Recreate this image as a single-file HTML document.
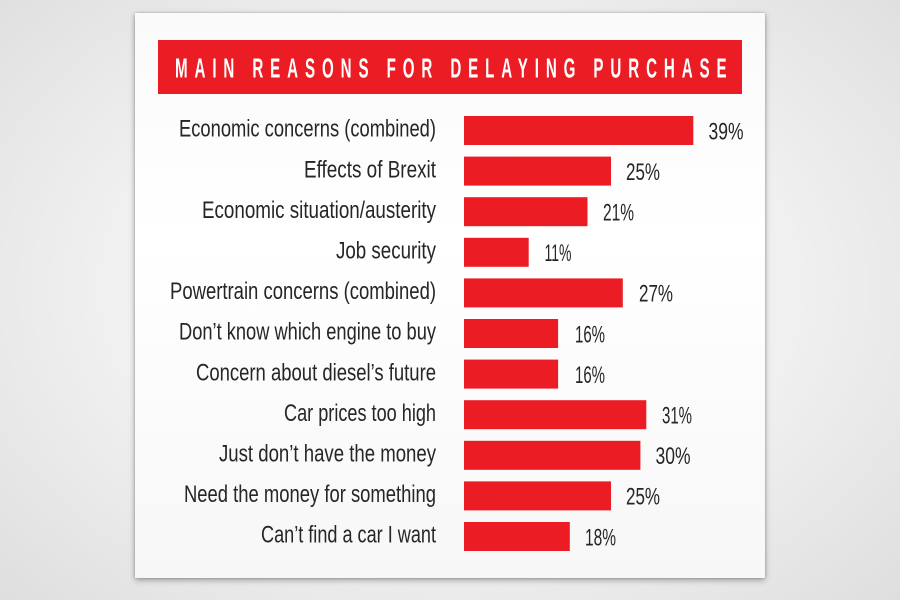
<!DOCTYPE html>
<html>
<head>
<meta charset="utf-8">
<style>
  html,body{margin:0;padding:0;}
  body{width:900px;height:600px;overflow:hidden;position:relative;
    background:radial-gradient(ellipse 70% 75% at 50% 48%, #f8f8f8 0%, #f0f0f0 55%, #dedede 100%);}
  .card{position:absolute;left:135px;top:13px;width:630px;height:565px;
    background:linear-gradient(180deg,#fafafa 0%,#ffffff 40%,#f7f7f7 100%);
    box-shadow:0 2px 6px rgba(0,0,0,0.35), 0 0 2px rgba(0,0,0,0.2);}
  svg{position:absolute;left:0;top:0;}
</style>
</head>
<body>
<div class="card"></div>
<svg width="900" height="600" viewBox="0 0 900 600" xmlns="http://www.w3.org/2000/svg">
  <rect x="158" y="40" width="584" height="54" fill="#ec1c24"/>
  <g transform="translate(175,77.5) scale(0.55,1)">
    <text x="0" y="0" font-family="Liberation Sans, sans-serif" font-weight="bold" font-size="27.5" fill="#ffffff" textLength="1003" lengthAdjust="spacing">MAIN REASONS FOR DELAYING PURCHASE</text>
  </g>

  <g fill="#ec1c24">
    <rect x="464" y="116" width="229.3" height="29"/>
    <rect x="464" y="156.6" width="147" height="29"/>
    <rect x="464" y="197.2" width="123.5" height="29"/>
    <rect x="464" y="237.8" width="64.7" height="29"/>
    <rect x="464" y="278.4" width="158.8" height="29"/>
    <rect x="464" y="319" width="94.1" height="29"/>
    <rect x="464" y="359.6" width="94.1" height="29"/>
    <rect x="464" y="400.2" width="182.3" height="29"/>
    <rect x="464" y="440.8" width="176.4" height="29"/>
    <rect x="464" y="481.4" width="147" height="29"/>
    <rect x="464" y="522" width="105.8" height="29"/>
  </g>

  <g font-family="Liberation Sans, sans-serif" font-size="24" fill="#262626" lengthAdjust="spacingAndGlyphs">
    <text x="179" y="136.7" textLength="257" lengthAdjust="spacingAndGlyphs">Economic concerns (combined)</text>
    <text x="304" y="177.3" textLength="132" lengthAdjust="spacingAndGlyphs">Effects of Brexit</text>
    <text x="202" y="217.9" textLength="234" lengthAdjust="spacingAndGlyphs">Economic situation/austerity</text>
    <text x="336" y="258.5" textLength="100" lengthAdjust="spacingAndGlyphs">Job security</text>
    <text x="170" y="299.1" textLength="266" lengthAdjust="spacingAndGlyphs">Powertrain concerns (combined)</text>
    <text x="179" y="339.7" textLength="257" lengthAdjust="spacingAndGlyphs">Don’t know which engine to buy</text>
    <text x="196" y="380.3" textLength="240" lengthAdjust="spacingAndGlyphs">Concern about diesel’s future</text>
    <text x="284" y="420.9" textLength="152" lengthAdjust="spacingAndGlyphs">Car prices too high</text>
    <text x="219" y="461.5" textLength="217" lengthAdjust="spacingAndGlyphs">Just don’t have the money</text>
    <text x="184" y="502.1" textLength="252" lengthAdjust="spacingAndGlyphs">Need the money for something</text>
    <text x="261" y="542.7" textLength="175" lengthAdjust="spacingAndGlyphs">Can’t find a car I want</text>
  </g>

  <g font-family="Liberation Sans, sans-serif" font-size="24" fill="#262626">
    <text x="708.5" y="139.3" textLength="35" lengthAdjust="spacingAndGlyphs">39%</text>
    <text x="626" y="179.9" textLength="34" lengthAdjust="spacingAndGlyphs">25%</text>
    <text x="603" y="220.5" textLength="31" lengthAdjust="spacingAndGlyphs">21%</text>
    <text x="544.5" y="261.1" textLength="27" lengthAdjust="spacingAndGlyphs">11%</text>
    <text x="639" y="301.7" textLength="34" lengthAdjust="spacingAndGlyphs">27%</text>
    <text x="575" y="342.3" textLength="30" lengthAdjust="spacingAndGlyphs">16%</text>
    <text x="575" y="382.9" textLength="30" lengthAdjust="spacingAndGlyphs">16%</text>
    <text x="662" y="423.5" textLength="30" lengthAdjust="spacingAndGlyphs">31%</text>
    <text x="655.5" y="464.1" textLength="35" lengthAdjust="spacingAndGlyphs">30%</text>
    <text x="626" y="504.7" textLength="34" lengthAdjust="spacingAndGlyphs">25%</text>
    <text x="585" y="545.3" textLength="31" lengthAdjust="spacingAndGlyphs">18%</text>
  </g>
</svg>
</body>
</html>
